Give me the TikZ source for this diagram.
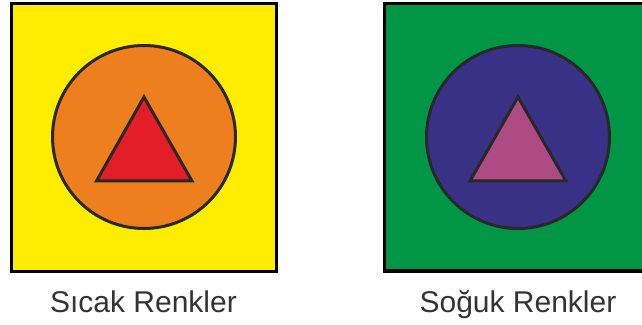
\documentclass[tikz,border=0pt]{standalone}
\usepackage{fontspec}
\setmainfont{Liberation Sans}
\usepackage{tikz}
\usepackage{xcolor}
\usetikzlibrary{positioning}
\definecolor{WarmYellow}{RGB}{255,237,0}
\definecolor{WarmOrange}{RGB}{238,127,30}
\definecolor{WarmRed}{RGB}{227,30,40}
\definecolor{CoolGreen}{RGB}{0,150,70}
\definecolor{CoolBlue}{RGB}{57,49,133}
\definecolor{CoolPink}{RGB}{174,74,132}
\definecolor{EdgeGray}{RGB}{40,40,40}
\definecolor{TextGray}{RGB}{51,51,51}

\begin{document}
\begin{tikzpicture}[x=1pt, y=1pt, font=\fontsize{30}{36}\selectfont]
      \useasboundingbox (0,0) rectangle (642,324);
      \clip (0,0) rectangle (642,324);
      % warm side
      \draw[black, line width=3.5, fill=WarmYellow] (11.5,52.5) rectangle (276.5,320.5);
      \draw[EdgeGray, line width=3, fill=WarmOrange] (144,187) circle (91.5);
      \draw[EdgeGray, line width=3, fill=WarmRed] (144,227) -- (96.5,143) -- (192,143) -- cycle;
      % cool side
      \draw[black, line width=3.5, fill=CoolGreen] (384.5,53) rectangle (649.5,320.5);
      \draw[EdgeGray, line width=3, fill=CoolBlue] (518,187) circle (91.5);
      \draw[EdgeGray, line width=3, fill=CoolPink] (518,227) -- (470,143) -- (566,143) -- cycle;
      % labels
      \node[TextGray, anchor=base] (sicak) at (143.5,12) {Sıcak Renkler};
      \node[TextGray, anchor=base] (soguk) at (518,12) {Soğuk Renkler};
    \end{tikzpicture}
\end{document}
